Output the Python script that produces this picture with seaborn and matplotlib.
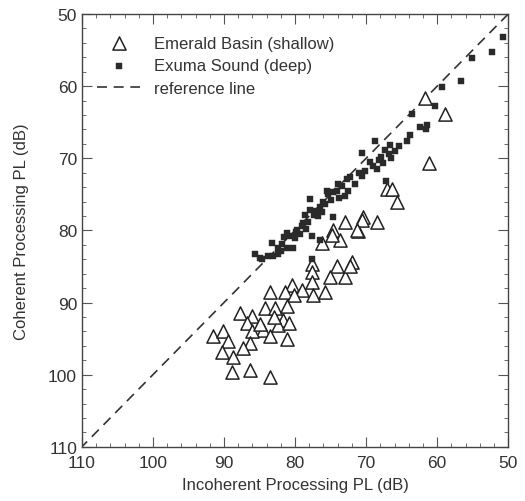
#!/usr/bin/env python3
import matplotlib
matplotlib.use("Agg")
import matplotlib.pyplot as plt
from matplotlib.ticker import MultipleLocator
import pandas as pd
import seaborn as sns

# Emerald Basin (shallow): incoherent PL, coherent PL (dB)
emerald_incoh = [61.7, 58.9, 61.1, 67.0, 66.3, 65.6, 70.4, 68.5, 71.1, 73.0,
                 70.6, 71.3, 74.6, 73.7, 76.2, 74.8, 77.6, 77.6, 74.1, 72.0,
                 75.1, 73.0, 72.3, 77.6, 83.5, 80.4, 81.4, 79.0, 77.5, 75.8,
                 80.1, 87.7, 84.2, 82.8, 81.1, 86.1, 86.8, 81.7, 82.4, 80.8,
                 84.5, 86.1, 83.5, 81.1, 91.5, 90.1, 89.4, 86.3, 90.3, 87.3,
                 88.7, 88.9, 86.3, 83.5, 85.0, 83.0]
emerald_coh = [61.7, 63.9, 70.6, 74.3, 74.2, 76.0, 78.2, 78.9, 80.1, 78.9,
               78.5, 79.9, 79.9, 81.3, 81.7, 80.6, 84.7, 85.8, 85.0, 84.4,
               86.4, 86.5, 85.0, 87.1, 88.5, 87.5, 88.6, 88.2, 88.9, 88.5,
               89.0, 91.4, 90.7, 90.7, 90.5, 91.9, 92.8, 92.4, 93.1, 92.9,
               93.8, 94.0, 94.7, 95.1, 94.7, 94.0, 95.4, 95.6, 96.8, 96.3,
               97.5, 99.7, 99.3, 100.3, 93.0, 92.0]

# Exuma Sound (deep)
exuma_incoh = [50.7, 52.3, 55.1, 56.6, 59.3, 60.3, 61.4, 62.4, 61.6, 63.6,
               63.8, 64.2, 65.4, 66.6, 68.7, 66.0, 66.8, 67.3, 67.9, 66.5,
               67.6, 68.2, 70.6, 70.1, 70.6, 72.3, 67.2, 72.7, 73.4, 74.1,
               72.5, 75.4, 74.6, 75.5, 77.9, 75.8, 76.5, 75.0, 76.0, 77.9,
               78.6, 77.3, 78.2, 78.9, 74.6, 79.0, 79.7, 81.1, 77.6, 80.7,
               81.5, 76.5, 83.2, 81.8, 82.4, 81.1, 80.3, 85.6, 84.9, 83.8,
               83.1, 82.4, 84.6, 77.6, 80.0, 79.3, 78.5, 77.0, 76.2, 74.0,
               73.0, 71.5, 69.5, 69.0, 68.5, 71.0, 73.8, 76.8, 79.8, 82.0]
exuma_coh = [53.2, 55.3, 56.1, 59.3, 60.1, 62.8, 65.4, 65.6, 65.9, 63.9,
             66.7, 67.6, 68.3, 68.1, 67.6, 69.0, 69.4, 68.8, 69.8, 70.0,
             70.6, 70.2, 69.2, 71.8, 72.5, 72.6, 73.2, 72.9, 73.9, 74.6,
             74.6, 75.0, 74.7, 74.6, 75.7, 76.4, 76.8, 75.8, 76.0, 77.1,
             77.8, 77.9, 78.8, 79.0, 78.2, 79.4, 79.9, 80.3, 80.8, 80.8,
             80.9, 81.3, 81.7, 81.9, 82.4, 82.4, 82.4, 83.3, 83.8, 83.6,
             83.5, 83.3, 84.0, 84.0, 81.0, 80.5, 79.8, 77.3, 77.5, 73.5,
             75.2, 73.5, 70.5, 71.0, 71.5, 72.0, 75.5, 78.0, 80.2, 82.8]

ref_line = [110, 50]

emerald = pd.DataFrame({"incoh": emerald_incoh, "coh": emerald_coh})
exuma = pd.DataFrame({"incoh": exuma_incoh, "coh": exuma_coh})

sns.set_style("ticks")
plt.rcParams["font.family"] = ["Liberation Sans", "DejaVu Sans"]

fig = plt.figure(figsize=(5.25, 5.02), dpi=100)
ax = fig.add_axes([0.156, 0.108, 0.812, 0.862])

sns.scatterplot(data=emerald, x="incoh", y="coh", marker="^", s=90,
                facecolor="white", edgecolor="#222222", linewidth=1.1,
                label="Emerald Basin (shallow)", ax=ax, zorder=3)
sns.scatterplot(data=exuma, x="incoh", y="coh", marker="s", s=16,
                color="#2a2a2a", edgecolor="#2a2a2a", linewidth=0.3,
                label="Exuma Sound (deep)", ax=ax, zorder=4)
sns.lineplot(x=ref_line, y=ref_line, ax=ax, color="#333333", linestyle=(0, (6, 4)),
             linewidth=1.2, label="reference line", zorder=2)

ax.set_xlim(110, 50)
ax.set_ylim(110, 50)
ax.xaxis.set_major_locator(MultipleLocator(10))
ax.yaxis.set_major_locator(MultipleLocator(10))
ax.xaxis.set_minor_locator(MultipleLocator(2))
ax.yaxis.set_minor_locator(MultipleLocator(2))
ax.tick_params(which="both", direction="in", top=True, right=True,
               labelsize=12.5, labelcolor="#333333", color="#555555")
ax.tick_params(which="major", length=7)
ax.tick_params(which="minor", length=3)
ax.tick_params(axis="x", pad=6)
for s in ax.spines.values():
    s.set_color("#444444")
    s.set_linewidth(1.0)

ax.set_xlabel("Incoherent Processing PL (dB)", fontsize=12, color="#333333", labelpad=5)
ax.set_ylabel("Coherent Processing PL (dB)", fontsize=12, color="#333333", labelpad=14)

ax.legend(loc="upper left", bbox_to_anchor=(0.0, 0.985), frameon=False,
          fontsize=12, handlelength=2.6, handletextpad=0.8, labelspacing=0.45,
          labelcolor="#333333")

fig.savefig("out.png", dpi=100)
